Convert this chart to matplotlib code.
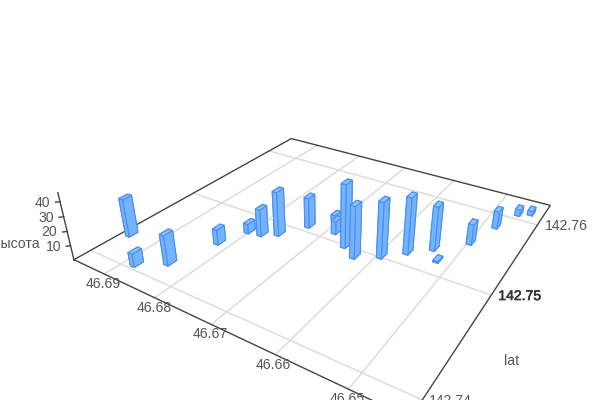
import numpy as np
import matplotlib
matplotlib.use('Agg')
import matplotlib.pyplot as plt
import matplotlib.patheffects as pe
from mpl_toolkits.mplot3d import proj3d

plt.rcParams['font.family'] = ['Liberation Sans', 'DejaVu Sans']

# values
lon = [46.6951, 46.6881, 46.6843, 46.6820, 46.6802, 46.6780, 46.6758, 46.6732, 46.6653, 46.6627,
       46.6594, 46.6566, 46.6537, 46.6520, 46.6497, 46.6480, 46.6462, 46.6445, 46.6710, 46.6686]
lat = [142.7430, 142.7406, 142.7419, 142.7456, 142.7479, 142.7481, 142.7488, 142.7509, 142.7500, 142.7492,
       142.7502, 142.7516, 142.7530, 142.7518, 142.7551, 142.7582, 142.7609, 142.7615, 142.7529, 142.7512]
height = [27.2, 9.3, 21.1, 10.8, 7.1, 19.5, 31.8, 22.1, 44.7, 36.6,
          39.2, 39.7, 31.3, 1.0, 14.8, 12.8, 4.8, 3.4, 3.4, 9.4]

lon_ticks = [46.69, 46.68, 46.67, 46.66, 46.65]
lat_ticks = [142.74, 142.75, 142.76]
z_ticks = [10, 20, 30, 40]

lon_min, lon_max = 46.64255, 46.69663
lat_min, lat_max = 142.73865, 142.76353
z_max = 45.76634
bar_w_lon = 0.0008
bar_w_lat = 0.0008

text_color = '#555555'
fs = 10.08

fig = plt.figure(figsize=(6, 4), dpi=100)
ax = fig.add_axes([25.03 / 600, -5.18 / 400, 1, 1], projection='3d', computed_zorder=False)

for x in lon_ticks:
    ax.plot([x, x], [lat_min, lat_max], [0, 0], color='#dcdcdc', lw=1.1, zorder=1, clip_on=False)
for y in lat_ticks:
    ax.plot([lon_min, lon_max], [y, y], [0, 0], color='#dcdcdc', lw=1.1, zorder=1, clip_on=False)

# frame of the floor and the height axis
box_x = [lon_max, lon_max, lon_min, lon_min, lon_max]
box_y = [lat_min, lat_max, lat_max, lat_min, lat_min]
ax.plot(box_x, box_y, [0] * 5, color='#444444', lw=1, zorder=2, clip_on=False)
ax.plot([lon_max, lon_max], [lat_min, lat_min], [0, z_max], color='#444444', lw=1, zorder=2, clip_on=False)
for z in z_ticks:
    ax.plot([lon_max, lon_max + 0.0004], [lat_min, lat_min - 0.0002], [z, z], color='#444444', lw=1,
            zorder=2, clip_on=False)

# far bars first
depth = np.array(lon) * -1 / (lon_max - lon_min) - 1.57 * np.array(lat) / (lat_max - lat_min)
sides = '#74b3ff'
top = '#8cc2ff'
for rank, i in enumerate(np.argsort(depth)):
    ax.bar3d(lon[i] - bar_w_lon / 2, lat[i] - bar_w_lat / 2, 0, bar_w_lon, bar_w_lat, height[i],
             color=[sides, top, sides, sides, sides, sides], edgecolor='#4a8ff0', linewidth=0.8,
             shade=False, zorder=3 + rank, clip_on=False)

ax.set_xlim(lon_max, lon_min, view_margin=0)
ax.set_ylim(lat_min, lat_max, view_margin=0)
ax.set_zlim(0, z_max, view_margin=0)
ax.set_box_aspect((1, 1.00067, 0.20346), zoom=1.22302)
ax.view_init(28.43493, -57.58576, -0.14123)
ax.set_proj_type('persp', focal_length=0.28065)
ax.set_axis_off()


def label(s, x, y, z, dx, dy, ha='center', **kw):
    u, v, _ = proj3d.proj_transform(x, y, z, ax.get_proj())
    ax.annotate(s, (u, v), xytext=(dx, -dy), textcoords='offset pixels', ha=ha, va='center',
                fontsize=fs, color=kw.pop('color', text_color), annotation_clip=False, zorder=50, **kw)


for x, off in zip(lon_ticks, [-1, 0, -1, -2, -1]):
    label('%.2f' % x, x, lat_min, 0, off, 10)
for y in lat_ticks:
    kw = {}
    if y == 142.75:
        kw = dict(color='#333333', path_effects=[pe.withStroke(linewidth=0.4, foreground='#333333')])
    label('%.2f' % y, lon_min, y, 0, 7, 1, ha='left', **kw)
for z, rx in zip(z_ticks, [-9, -10, -10, -10]):
    label(str(z), lon_max, lat_min, z, rx, 1, ha='right')
label('высота', lon_max, lat_min, 11, -31, 0, ha='right')
label('lat', lon_min, 142.7585, 0, -20, 127)

fig.savefig('out.png', dpi=100)
